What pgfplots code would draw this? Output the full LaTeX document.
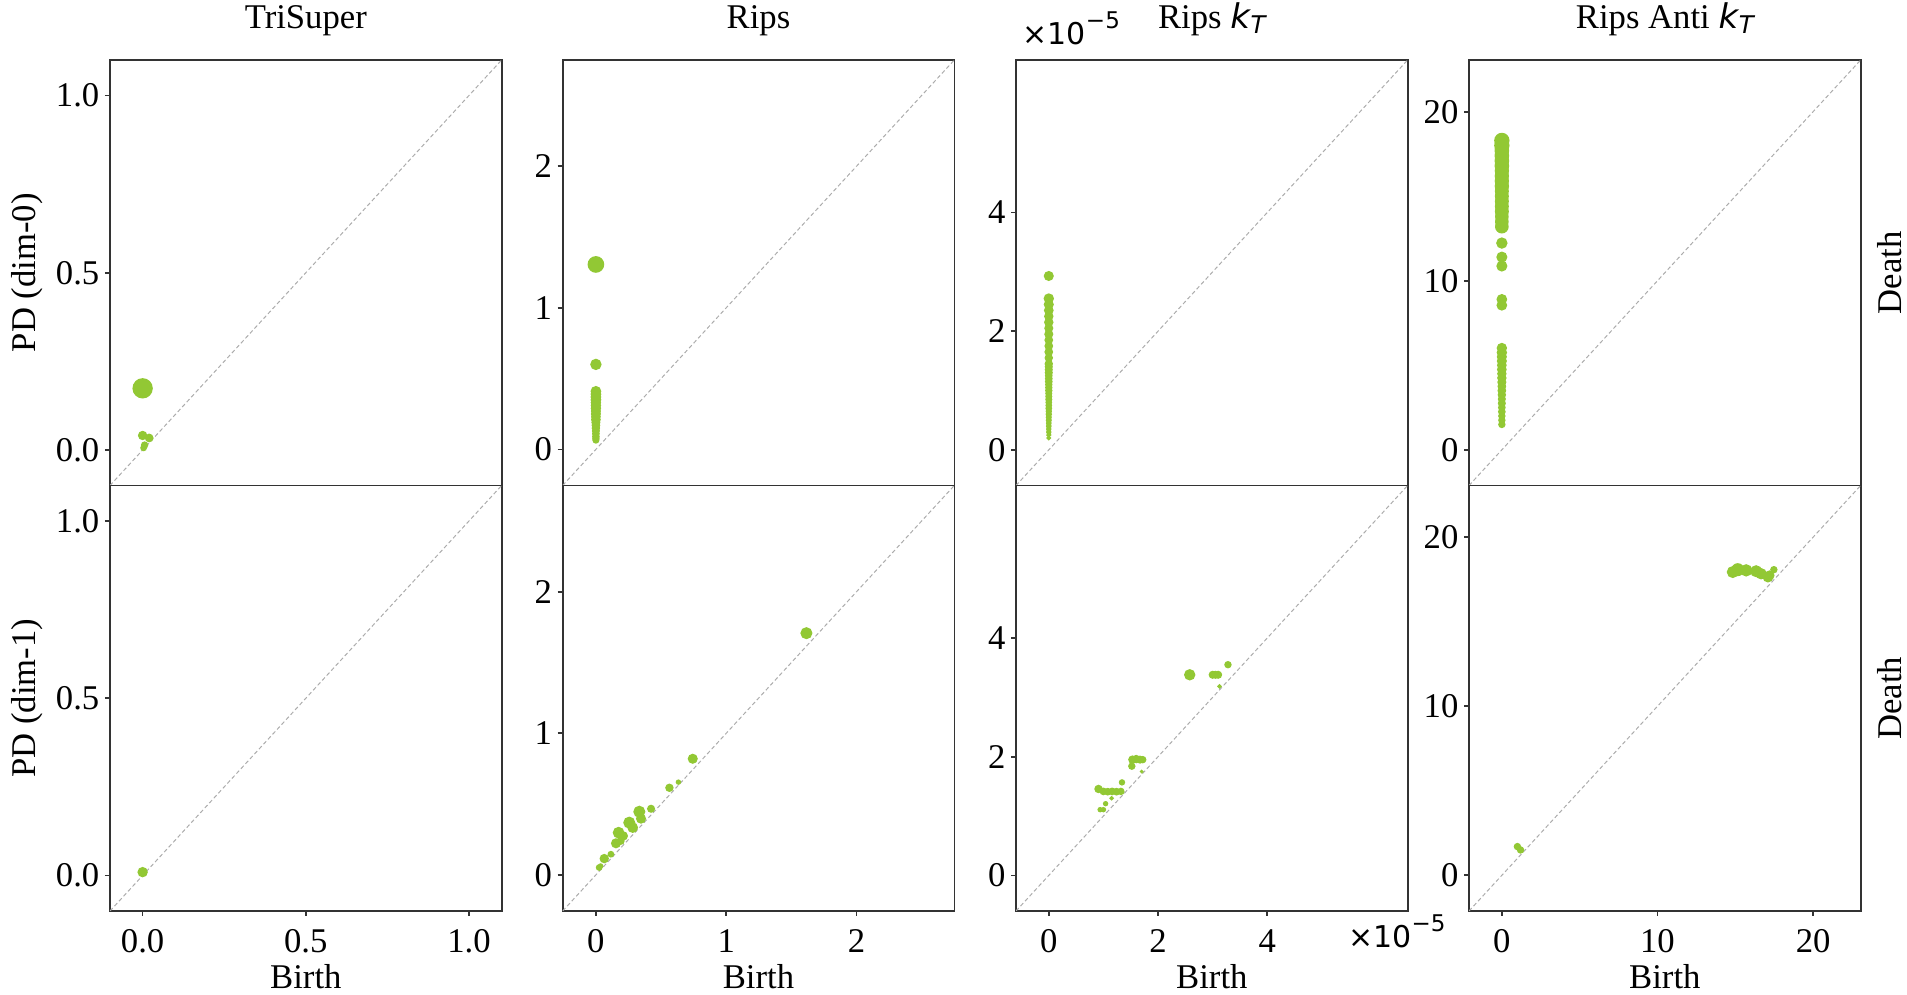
\documentclass[border=0pt]{standalone}
\usepackage{fontspec}
\setmainfont{Liberation Serif}
\newfontfamily\dvs{DejaVu Sans}
\usepackage{pgfplots}
\pgfplotsset{compat=1.18}

\definecolor{pdgreen}{RGB}{146,200,52}
\newcommand\fs{\fontsize{10.4}{12}\selectfont}
\newcommand\kT{{\dvs\itshape\fontsize{10.2}{11}\selectfont k}\kern0.2pt\raisebox{-1.7pt}{\dvs\itshape\fontsize{7.3}{8}\selectfont T}}
\newcommand\sci{{\dvs\fontsize{9}{10}\selectfont ×10\raisebox{4.8pt}{\fontsize{6.9}{8}\selectfont −5}}}
\newcommand\tl[1]{\textrm{#1}}

\pgfplotsset{
  pd/.style={
    scale only axis, width=117.5pt, height=127.65pt,
    axis line style={black!80, line width=0.5pt},
    tick style={black!80, line width=0.5pt},
    major tick length=1.5pt,
    tick align=outside, tick pos=left,
    clip mode=individual,
    ticklabel style={font=\fs},
    xticklabel style={anchor=base, inner sep=0pt, yshift=-11pt},
    yticklabel style={anchor=east, inner sep=0pt, xshift=-1.5pt},
    title style={font=\fs, at={(0.5,1)}, anchor=base, yshift=3.5pt},
    xlabel style={font=\fs, at={(axis description cs:0.5,0)}, anchor=base, yshift=-23.2pt},
    ylabel style={font=\fs, at={(axis description cs:-0.212,0.5)}, anchor=center, rotate=0},
  },
  top/.style={xtick=\empty},
  pts/.style={
    scatter, only marks, mark=*,
    scatter/use mapped color={draw=pdgreen, fill=pdgreen},
    visualization depends on={\thisrow{r}\as\rr},
    scatter/@pre marker code/.append style={/tikz/mark size=\rr},
  },
  diag/.style={gray!65, line width=0.3pt, dash pattern=on 1.2pt off 0.8pt},
}

\begin{document}
\begin{tikzpicture}
\path[use as bounding box] (-33pt,-25.2pt) rectangle (539.1pt,273.3pt);

% ---------- TriSuper ----------
\begin{axis}[pd, top, at={(0pt,127.65pt)},
  xmin=-0.1, xmax=1.1, ymin=-0.1, ymax=1.1,
  ytick={0,0.5,1}, yticklabels={\tl{0.0},\tl{0.5},\tl{1.0}},
  title={TriSuper}, ylabel={PD (dim-0)}]
\addplot[diag] coordinates {(-0.1,-0.1) (1.1,1.1)};
\addplot[pts] table {
x y r
0 0.174 2.85
0 0.041 1.2
0.02 0.034 1.1
0.006 0.014 0.9
0.003 0.006 0.8
};
\end{axis}
\begin{axis}[pd, at={(0pt,0pt)},
  xmin=-0.1, xmax=1.1, ymin=-0.1, ymax=1.1,
  xtick={0,0.5,1}, xticklabels={\tl{0.0},\tl{0.5},\tl{1.0}},
  ytick={0,0.5,1}, yticklabels={\tl{0.0},\tl{0.5},\tl{1.0}},
  xlabel={Birth}, ylabel={PD (dim-1)}]
\addplot[diag] coordinates {(-0.1,-0.1) (1.1,1.1)};
\addplot[pts] table {
x y r
0 0.0096 1.35
};
\end{axis}

% ---------- Rips ----------
\begin{axis}[pd, top, at={(135.8pt,127.65pt)},
  xmin=-0.255, xmax=2.75, ymin=-0.255, ymax=2.75,
  ytick={0,1,2}, yticklabels={\tl{0},\tl{1},\tl{2}},
  title={Rips}]
\addplot[diag] coordinates {(-0.255,-0.255) (2.75,2.75)};
\addplot[pts] table {
x y r
0 1.306 2.3
0 0.600 1.5
0 0.41 1.4
0 0.39 1.4
0 0.37 1.4
0 0.35 1.4
0 0.33 1.35
0 0.31 1.35
0 0.29 1.35
0 0.27 1.3
0 0.25 1.3
0 0.23 1.25
0 0.21 1.25
0 0.19 1.15
0 0.17 1.1
0 0.15 1.05
0 0.13 1.0
0 0.11 0.95
0 0.09 0.95
0 0.075 0.9
0 0.065 0.85
};
\end{axis}
\begin{axis}[pd, at={(135.8pt,0pt)},
  xmin=-0.255, xmax=2.75, ymin=-0.255, ymax=2.75,
  xtick={0,1,2}, xticklabels={\tl{0},\tl{1},\tl{2}},
  ytick={0,1,2}, yticklabels={\tl{0},\tl{1},\tl{2}},
  xlabel={Birth}]
\addplot[diag] coordinates {(-0.255,-0.255) (2.75,2.75)};
\addplot[pts] table {
x y r
1.615 1.707 1.6
0.743 0.820 1.3
0.564 0.615 1.05
0.633 0.655 0.6
0.423 0.467 1.0
0.333 0.446 1.6
0.346 0.397 1.3
0.256 0.369 1.6
0.282 0.334 1.4
0.174 0.298 1.55
0.210 0.275 1.2
0.190 0.240 1.0
0.154 0.223 1.3
0.115 0.146 0.8
0.064 0.115 1.2
0.036 0.063 0.6
0.025 0.052 0.8
};
\end{axis}

% ---------- Rips kT ----------
\begin{axis}[pd, top, at={(271.8pt,127.65pt)}, name=kttop,
  xmin=-0.6, xmax=6.57, ymin=-0.6, ymax=6.57,
  ytick={0,2,4}, yticklabels={\tl{0},\tl{2},\tl{4}},
  title={Rips \kT}]
\addplot[diag] coordinates {(-0.6,-0.6) (6.57,6.57)};
\addplot[pts] table {
x y r
0 2.93 1.3
0 2.55 1.35
0 2.45 1.3
0 2.35 1.25
0 2.25 1.2
0 2.15 1.2
0 2.05 1.15
0 1.95 1.15
0 1.85 1.1
0 1.75 1.1
0 1.65 1.1
0 1.55 1.05
0 1.45 1.05
0 1.40 1.0
0 1.35 1.0
0 1.30 1.0
0 1.25 0.95
0 1.20 0.95
0 1.15 0.95
0 1.10 0.9
0 1.05 0.9
0 1.00 0.9
0 0.95 0.85
0 0.90 0.85
0 0.85 0.85
0 0.80 0.8
0 0.75 0.8
0 0.70 0.8
0 0.65 0.75
0 0.60 0.75
0 0.55 0.7
0 0.50 0.7
0 0.45 0.65
0 0.40 0.65
0 0.35 0.6
0 0.30 0.6
0 0.25 0.55
0 0.20 0.5
};
\end{axis}
\begin{axis}[pd, at={(271.8pt,0pt)}, name=ktbot,
  xmin=-0.6, xmax=6.57, ymin=-0.6, ymax=6.57,
  xtick={0,2,4}, xticklabels={\tl{0},\tl{2},\tl{4}},
  ytick={0,2,4}, yticklabels={\tl{0},\tl{2},\tl{4}},
  xlabel={Birth}]
\addplot[diag] coordinates {(-0.6,-0.6) (6.57,6.57)};
\addplot[pts] table {
x y r
2.58 3.38 1.5
3.00 3.38 1.0
3.05 3.38 1.0
3.10 3.38 1.0
3.28 3.55 0.9
3.125 3.185 0.45
1.53 1.95 1.05
1.60 1.96 1.05
1.67 1.95 1.0
1.72 1.95 0.9
1.52 1.84 0.9
1.70 1.75 0.35
0.91 1.456 1.05
1.00 1.415 0.95
1.08 1.410 0.95
1.16 1.415 0.95
1.24 1.410 0.95
1.32 1.415 0.9
1.34 1.567 0.75
0.94 1.107 0.6
1.00 1.107 0.6
1.04 1.208 0.6
1.15 1.30 0.45
};
\end{axis}
\node[anchor=base west, inner sep=0pt] at ([xshift=1.8pt, yshift=4.5pt]kttop.north west) {\sci};
\node[anchor=base west, inner sep=0pt] at ([xshift=-18pt, yshift=-11.1pt]ktbot.south east) {\sci};

% ---------- Rips Anti kT ----------
\begin{axis}[pd, top, at={(407.7pt,127.65pt)}, name=antitop,
  xmin=-2.11, xmax=23.06, ymin=-2.11, ymax=23.06,
  ytick={0,10,20}, yticklabels={\tl{0},\tl{10},\tl{20}},
  title={Rips Anti \kT}]
\addplot[diag] coordinates {(-2.11,-2.11) (23.06,23.06)};
\addplot[pts] table {
x y r
0 18.30 2.1
0 18.00 2.1
0 17.70 2.0
0 17.40 2.0
0 17.10 2.0
0 16.80 2.0
0 16.50 1.95
0 16.20 1.95
0 15.90 1.95
0 15.60 1.95
0 15.30 1.9
0 15.00 1.9
0 14.70 1.9
0 14.40 1.9
0 14.10 1.9
0 13.80 1.85
0 13.50 1.85
0 13.20 1.85
0 12.23 1.5
0 11.40 1.45
0 10.87 1.45
0 8.90 1.4
0 8.55 1.4
0 6.02 1.35
0 5.75 1.35
0 5.50 1.3
0 5.25 1.3
0 5.00 1.25
0 4.75 1.25
0 4.50 1.2
0 4.25 1.2
0 4.00 1.15
0 3.75 1.1
0 3.50 1.1
0 3.25 1.05
0 3.00 1.0
0 2.75 1.0
0 2.50 0.95
0 2.25 0.95
0 2.00 0.9
0 1.75 0.9
0 1.50 0.9
};
\end{axis}
\begin{axis}[pd, at={(407.7pt,0pt)}, name=antibot,
  xmin=-2.11, xmax=23.06, ymin=-2.11, ymax=23.06,
  xtick={0,10,20}, xticklabels={\tl{0},\tl{10},\tl{20}},
  ytick={0,10,20}, yticklabels={\tl{0},\tl{10},\tl{20}},
  xlabel={Birth}]
\addplot[diag] coordinates {(-2.11,-2.11) (23.06,23.06)};
\addplot[pts] table {
x y r
14.84 17.94 1.6
15.16 18.08 1.75
15.70 18.04 1.65
16.34 17.99 1.6
16.66 17.84 1.5
17.10 17.64 1.4
17.20 17.74 1.3
17.48 18.08 0.9
1.00 1.70 0.9
1.20 1.50 0.9
};
\end{axis}
\node[rotate=90, font=\fs] at ([xshift=8.6pt]antitop.east) {Death};
\node[rotate=90, font=\fs] at ([xshift=8.6pt]antibot.east) {Death};
\end{tikzpicture}
\end{document}
